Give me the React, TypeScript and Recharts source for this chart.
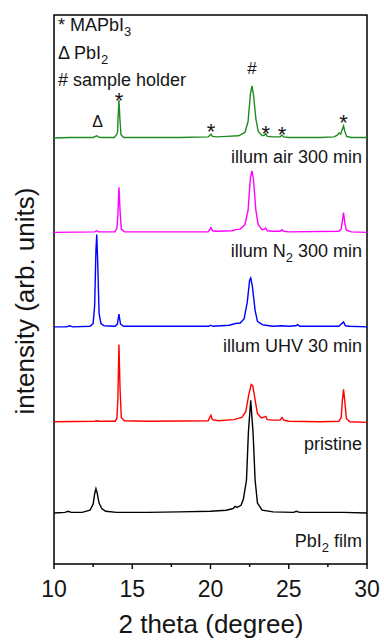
import { LineChart, Line, XAxis, YAxis, ReferenceArea, ReferenceDot } from 'recharts';

const FONT = '"Liberation Sans", Arial, Helvetica, sans-serif';
const INK = '#151515';

// [2 theta (deg), intensity (arb. units)], own baseline = 0
const PBI2_FILM = [
  [10, 0], [10.7, 1], [10.9, 3], [11.1, 1], [11.8, 1], [12.3, 5], [12.5, 16], [12.6, 35],
  [12.68, 44], [12.76, 36], [12.88, 18], [13.05, 8], [13.3, 3], [14, 1], [16, 1], [18, 2],
  [20, 3], [21, 5], [21.45, 8], [21.57, 12], [21.7, 10], [21.95, 14], [22.1, 25], [22.3, 60],
  [22.42, 146], [22.57, 205], [22.72, 146], [22.85, 60], [23.0, 18], [23.3, 5], [24, 2],
  [25.3, 1], [25.5, 3], [25.7, 1], [27, 1], [28.5, 1], [30, 0],
];

const PRISTINE = [
  [10, 0], [12.6, 1], [12.72, 2], [12.85, 1], [13.9, 1], [14.02, 6], [14.08, 40], [14.15, 141],
  [14.22, 60], [14.3, 8], [14.5, 2], [16, 1], [19.85, 2], [19.97, 9], [20.03, 12], [20.12, 4],
  [20.5, 2], [21.5, 4], [22.0, 8], [22.25, 18], [22.45, 50], [22.6, 68], [22.7, 66], [22.85, 40],
  [23.0, 15], [23.25, 7], [23.45, 9], [23.53, 10], [23.62, 4], [24, 3], [24.45, 3], [24.57, 8],
  [24.68, 3], [25, 1], [27, 0], [28.2, 1], [28.35, 8], [28.43, 40], [28.5, 59], [28.58, 38],
  [28.68, 6], [28.9, 0], [30, -1],
];

const UHV_30 = [
  [10, 0], [10.8, 0], [11.0, 2], [11.2, 0], [12.3, 1], [12.5, 6], [12.6, 40], [12.68, 140],
  [12.73, 168], [12.79, 120], [12.88, 25], [13.0, 6], [13.2, 2], [13.9, 1], [14.05, 5],
  [14.15, 23], [14.25, 5], [14.45, 1], [19.9, 1], [20.0, 3], [20.15, 1], [21.2, 3], [21.6, 6],
  [21.9, 7], [22.15, 15], [22.35, 45], [22.5, 85], [22.57, 89], [22.67, 75], [22.85, 30],
  [23.0, 10], [23.3, 4], [23.52, 3], [24, 1], [24.55, 2], [25, 1], [25.45, 2], [25.57, 4],
  [25.7, 1], [28.2, 1], [28.5, 9], [28.62, 2], [28.9, 1], [30, 0],
];

const N2_300 = [
  [10, 0], [12.6, 1], [12.72, 3], [12.85, 1], [13.9, 1], [14.02, 8], [14.08, 30], [14.15, 82],
  [14.22, 40], [14.3, 6], [14.5, 1], [16, 1], [19.85, 1], [19.97, 6], [20.03, 9], [20.12, 3],
  [20.4, 2], [21.4, 3], [21.6, 5], [21.9, 6], [22.2, 14], [22.4, 40], [22.55, 100], [22.65, 112],
  [22.75, 95], [22.9, 40], [23.05, 14], [23.3, 5], [23.45, 6], [23.53, 8], [23.62, 3], [24, 2],
  [24.45, 2], [24.57, 5], [24.68, 2], [25, 1], [28.2, 2], [28.35, 6], [28.43, 22], [28.5, 36],
  [28.58, 18], [28.68, 4], [29, 1], [30, 0],
];

const AIR_300 = [
  [10, 0], [11, 1], [12.5, 1], [12.65, 3], [12.73, 4], [12.82, 2], [13, 1], [13.85, 1],
  [14.0, 6], [14.06, 11], [14.1, 40], [14.15, 69], [14.21, 35], [14.28, 6], [14.45, 1], [16, 1],
  [18, 1], [19.85, 2], [19.97, 5], [20.03, 7], [20.12, 3], [20.4, 2], [21, 3], [21.8, 4],
  [22.2, 10], [22.4, 30], [22.55, 80], [22.65, 95], [22.75, 78], [22.9, 35], [23.05, 12],
  [23.3, 4], [23.45, 5], [23.53, 8], [23.62, 3], [24, 2], [24.45, 2], [24.57, 5], [24.68, 2],
  [25, 1], [27, 1], [27.9, 2], [28.1, 5], [28.22, 9], [28.32, 7], [28.42, 16], [28.5, 22],
  [28.58, 12], [28.7, 3], [29, 1], [30, 1],
];

const X_TICKS = [10, 12.5, 15, 17.5, 20, 22.5, 25, 27.5, 30];

// vertical stacking offsets of the patterns
const SERIES = [
  { key: 'film', points: PBI2_FILM, offset: 93, color: '#000000' },
  { key: 'pristine', points: PRISTINE, offset: 259, color: '#ff0000' },
  { key: 'uhv', points: UHV_30, offset: 432, color: '#0000ff' },
  { key: 'n2', points: N2_300, offset: 604, color: '#ff00ff' },
  { key: 'air', points: AIR_300, offset: 776, color: '#1f8c1f' },
];

// phase markers above the top pattern
const PEAK_MARKS = [
  { x: 12.79, y: 796, symbol: 'Δ', size: 16 },
  { x: 14.15, y: 831, symbol: '*', size: 22 },
  { x: 20.03, y: 775, symbol: '*', size: 22 },
  { x: 22.65, y: 893, symbol: '#', size: 17 },
  { x: 23.53, y: 771, symbol: '*', size: 22 },
  { x: 24.57, y: 768, symbol: '*', size: 22 },
  { x: 28.5, y: 790, symbol: '*', size: 22 },
];

function XTick({ x, y, payload }: any) {
  const major = payload.value % 5 === 0;
  return (
    <g>
      <line x1={x} x2={x} y1={y} y2={y + (major ? 5 : 3)} stroke="#000" strokeWidth={1.4} />
      {major && (
        <text x={x} y={y + 33} textAnchor="middle" fontSize={23} fill={INK} fontFamily={FONT}>
          {payload.value}
        </text>
      )}
    </g>
  );
}

function Annotations() {
  return (
    <svg
      width={384}
      height={640}
      style={{ position: 'absolute', left: 0, top: 0, pointerEvents: 'none' }}
      fontFamily={FONT}
      fill={INK}
    >
      <text x={58} y={31} fontSize={18}>
        * MAPbI<tspan dy={5} fontSize={13}>3</tspan>
      </text>
      <text x={58} y={59} fontSize={18}>
        Δ PbI<tspan dy={5} fontSize={13}>2</tspan>
      </text>
      <text x={58} y={86} fontSize={18}>
        # sample holder
      </text>

      <text x={362} y={163} fontSize={18} textAnchor="end">illum air 300 min</text>
      <text x={362} y={257} fontSize={18} textAnchor="end">
        illum N<tspan dy={5} fontSize={13}>2</tspan><tspan dy={-5}> 300 min</tspan>
      </text>
      <text x={362} y={352} fontSize={18} textAnchor="end">illum UHV 30 min</text>
      <text x={362} y={450} fontSize={18} textAnchor="end">pristine</text>
      <text x={362} y={547} fontSize={18} textAnchor="end">
        PbI<tspan dy={5} fontSize={13}>2</tspan><tspan dy={-5}> film</tspan>
      </text>

      <text x={211} y={633} fontSize={26} textAnchor="middle">2 theta (degree)</text>
      <text
        x={0}
        y={0}
        fontSize={26}
        textAnchor="middle"
        transform="translate(34 301) rotate(-90)"
      >
        intensity (arb. units)
      </text>
    </svg>
  );
}

export default function App() {
  return (
    <div style={{ position: 'absolute', left: 0, top: 0, width: 384, height: 640, background: '#fff' }}>
      <LineChart
        width={384}
        height={640}
        margin={{ top: 15, right: 17, bottom: 0, left: 54 }}
        style={{ fontFamily: FONT }}
      >
        <XAxis
          dataKey="x"
          type="number"
          domain={[10, 30]}
          ticks={X_TICKS}
          interval={0}
          allowDataOverflow
          height={76}
          axisLine={false}
          tickLine={false}
          tickSize={0}
          tickMargin={0}
          tick={<XTick />}
        />
        <YAxis type="number" domain={[0, 1000]} allowDataOverflow hide />
        <ReferenceArea
          x1={10}
          x2={30}
          y1={0}
          y2={1000}
          fill="none"
          fillOpacity={0}
          stroke="#000"
          strokeWidth={1.5}
        />
        {SERIES.map((s) => (
          <Line
            key={s.key}
            data={s.points.map(([x, v]) => ({ x, y: s.offset + v }))}
            dataKey="y"
            type="linear"
            stroke={s.color}
            strokeWidth={1.4}
            dot={false}
            isAnimationActive={false}
          />
        ))}
        {PEAK_MARKS.map((m, i) => (
          <ReferenceDot
            key={i}
            x={m.x}
            y={m.y}
            r={0}
            ifOverflow="visible"
            shape={(p: any) => (
              <text
                x={p.cx}
                y={p.cy}
                textAnchor="middle"
                fontSize={m.size}
                fill={INK}
                fontFamily={FONT}
              >
                {m.symbol}
              </text>
            )}
          />
        ))}
      </LineChart>
      <Annotations />
    </div>
  );
}
